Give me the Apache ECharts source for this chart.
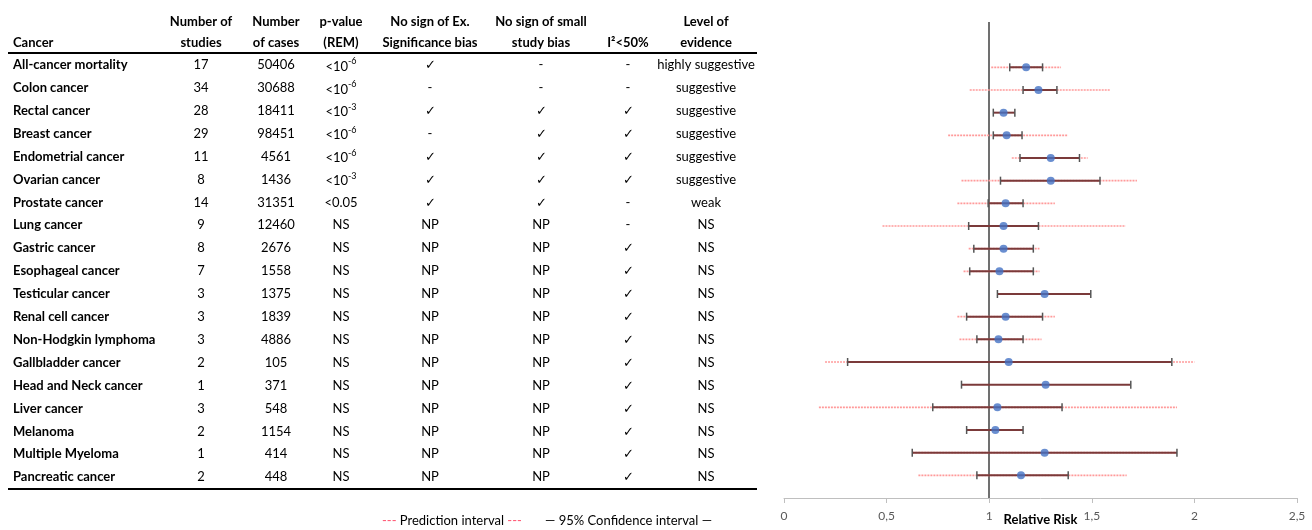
<!DOCTYPE html>
<html>
<head>
<meta charset="utf-8">
<script src="https://cdn.jsdelivr.net/npm/echarts@6/dist/echarts.min.js"></script>
<style>
  html, body { margin: 0; background: #fff; }
  #chart { width: 1312px; height: 530px; }
</style>
</head>
<body>
<div id="chart"></div>
<script>
// table columns
const cancers = ['All-cancer mortality', 'Colon cancer', 'Rectal cancer', 'Breast cancer', 'Endometrial cancer',
  'Ovarian cancer', 'Prostate cancer', 'Lung cancer', 'Gastric cancer', 'Esophageal cancer', 'Testicular cancer',
  'Renal cell cancer', 'Non-Hodgkin lymphoma', 'Gallbladder cancer', 'Head and Neck cancer', 'Liver cancer',
  'Melanoma', 'Multiple Myeloma', 'Pancreatic cancer'];
const studies = [17, 34, 28, 29, 11, 8, 14, 9, 8, 7, 3, 3, 3, 2, 1, 3, 2, 1, 2];
const cases = [50406, 30688, 18411, 98451, 4561, 1436, 31351, 12460, 2676, 1558, 1375, 1839, 4886, 105, 371, 548, 1154, 414, 448];
// '^' marks the exponent part
const pValues = ['<10^-6', '<10^-6', '<10^-3', '<10^-6', '<10^-6', '<10^-3', '<0.05', 'NS', 'NS', 'NS', 'NS', 'NS', 'NS', 'NS', 'NS', 'NS', 'NS', 'NS', 'NS'];
const exSigBias = ['✓', '-', '✓', '-', '✓', '✓', '✓', 'NP', 'NP', 'NP', 'NP', 'NP', 'NP', 'NP', 'NP', 'NP', 'NP', 'NP', 'NP'];
const smallStudyBias = ['-', '-', '✓', '✓', '✓', '✓', '✓', 'NP', 'NP', 'NP', 'NP', 'NP', 'NP', 'NP', 'NP', 'NP', 'NP', 'NP', 'NP'];
const lowI2 = ['-', '-', '✓', '✓', '✓', '✓', '-', '-', '✓', '✓', '✓', '✓', '✓', '✓', '✓', '✓', '✓', '✓', '✓'];
const evidence = ['highly suggestive', 'suggestive', 'suggestive', 'suggestive', 'suggestive', 'suggestive', 'weak',
  'NS', 'NS', 'NS', 'NS', 'NS', 'NS', 'NS', 'NS', 'NS', 'NS', 'NS', 'NS'];

// forest plot values (relative risk)
const rr     = [1.18, 1.24, 1.07, 1.085, 1.30, 1.30, 1.08, 1.07, 1.07, 1.05, 1.27, 1.08, 1.045, 1.095, 1.275, 1.04, 1.03, 1.27, 1.155];
const ciLow  = [1.10, 1.165, 1.02, 1.02, 1.15, 1.055, 0.995, 0.90, 0.925, 0.905, 1.04, 0.89, 0.94, 0.31, 0.865, 0.725, 0.89, 0.625, 0.94];
const ciHigh = [1.26, 1.33, 1.125, 1.16, 1.44, 1.54, 1.165, 1.24, 1.215, 1.215, 1.495, 1.26, 1.165, 1.89, 1.69, 1.355, 1.165, 1.915, 1.385];
const piLow  = [1.01, 0.905, null, 0.80, 1.11, 0.865, 0.845, 0.48, 0.90, 0.875, null, 0.845, 0.855, 0.20, null, 0.17, null, 0.625, 0.655];
const piHigh = [1.35, 1.59, null, 1.385, 1.48, 1.72, 1.32, 1.665, 1.245, 1.245, null, 1.32, 1.255, 2.00, null, 1.915, null, 1.915, 1.67];

const xTicks = [0, 0.5, 1, 1.5, 2, 2.5];

const FONT = 'Lato, "Open Sans", sans-serif';
const rowY = i => 65 + i * 22.9;

// column layout for the table
const columns = [
  { head: ['Number of', 'studies'], x: 201, vals: studies },
  { head: ['Number', 'of cases'], x: 276, vals: cases },
  { head: ['p-value', '(REM)'], x: 341, vals: pValues },
  { head: ['No sign of Ex.', 'Significance bias'], x: 430, vals: exSigBias },
  { head: ['No sign of small', 'study bias'], x: 541, vals: smallStudyBias },
  { head: ['', 'I²<50%'], x: 628, vals: lowI2 },
  { head: ['Level of', 'evidence'], x: 706, vals: evidence }
];

const supRich = {
  b: { font: '13px ' + FONT, fill: '#000', lineHeight: 16, verticalAlign: 'bottom' },
  s: { font: '9px ' + FONT, fill: '#000', lineHeight: 16, verticalAlign: 'top' }
};

const txt = (x, y, text, align, bold, extra) => {
  let s = String(text);
  let rich;
  if (s.indexOf('^') >= 0) {
    const parts = s.split('^');
    s = '{b|' + parts[0] + '}{s|' + parts[1] + '}';
    rich = supRich;
  }
  return {
    type: 'text',
    x: x, y: y,
    style: Object.assign({
      text: s,
      fill: '#000',
      font: (bold ? 'bold ' : '') + '13px ' + FONT,
      align: align,
      verticalAlign: 'middle',
      rich: rich
    }, extra || {})
  };
};

const tableEls = [];
tableEls.push(txt(13, 43, 'Cancer', 'left', true));
columns.forEach(c => {
  if (c.head[0]) tableEls.push(txt(c.x, 22, c.head[0], 'center', true));
  tableEls.push(txt(c.x, 43, c.head[1], 'center', true));
});
cancers.forEach((name, i) => {
  tableEls.push(txt(13, rowY(i), name, 'left', true, { width: 148, overflow: 'truncate', ellipsis: '' }));
  columns.forEach(c => tableEls.push(txt(c.x, rowY(i), c.vals[i], 'center', false)));
});
tableEls.push({ type: 'line', shape: { x1: 8, y1: 53, x2: 757, y2: 53 }, style: { stroke: '#000', lineWidth: 2 } });
tableEls.push({ type: 'line', shape: { x1: 8, y1: 489, x2: 757, y2: 489 }, style: { stroke: '#000', lineWidth: 2 } });

// legend under the table
tableEls.push({
  type: 'text',
  x: 547, y: 521,
  style: {
    text: '{r|---} Prediction interval {r|---}       — 95% Confidence interval —',
    font: '13px ' + FONT,
    fill: '#000',
    align: 'center',
    verticalAlign: 'middle',
    rich: { r: { fill: '#ff5470', font: '13px ' + FONT } }
  }
});

const n = cancers.length;
const intervalData = cancers.map((_, i) => [ciLow[i], ciHigh[i], piLow[i] == null ? '-' : piLow[i], piHigh[i] == null ? '-' : piHigh[i], n - i]);
const pointData = cancers.map((_, i) => [rr[i], n - i]);

function renderInterval(params, api) {
  const y = api.value(4);
  const children = [];
  const pl = api.value(2), ph = api.value(3);
  if (!isNaN(pl) && !isNaN(ph)) {
    const a = api.coord([pl, y]), b = api.coord([ph, y]);
    children.push({
      type: 'line',
      shape: { x1: a[0], y1: a[1], x2: b[0], y2: b[1] },
      style: { stroke: '#ff9a9a', lineWidth: 1.6, lineDash: [2, 1] }
    });
  }
  const lo = api.coord([api.value(0), y]), hi = api.coord([api.value(1), y]);
  children.push({
    type: 'line',
    shape: { x1: lo[0], y1: lo[1], x2: hi[0], y2: hi[1] },
    style: { stroke: '#7b3a3a', lineWidth: 2 }
  });
  [lo, hi].forEach(p => children.push({
    type: 'line',
    shape: { x1: p[0], y1: p[1] - 4, x2: p[0], y2: p[1] + 4 },
    style: { stroke: '#555', lineWidth: 1.5 }
  }));
  return { type: 'group', children: children };
}

const chart = echarts.init(document.getElementById('chart'));
chart.setOption({
  backgroundColor: '#fff',
  animation: false,
  textStyle: { fontFamily: FONT },
  grid: { left: 784, right: 15, top: 22, bottom: 32, outerBoundsMode: 'none', containLabel: false },
  xAxis: {
    type: 'value',
    min: xTicks[0],
    max: xTicks[xTicks.length - 1],
    interval: 0.5,
    axisLine: { lineStyle: { color: '#bfbfbf', width: 1 } },
    axisTick: { show: true, length: 5, lineStyle: { color: '#bfbfbf' } },
    axisLabel: { color: '#595959', fontSize: 12, margin: 12, formatter: v => String(v).replace('.', ',') },
    splitLine: { show: false },
    name: 'Relative Risk',
    nameLocation: 'middle',
    nameGap: 15,
    nameMoveOverlap: false,
    nameTextStyle: { color: '#000', fontWeight: 'bold', fontSize: 13 }
  },
  yAxis: { type: 'value', min: 0, max: n + 2, show: false },
  graphic: tableEls,
  series: [
    {
      type: 'custom',
      renderItem: renderInterval,
      encode: { x: [0, 1, 2, 3], y: 4 },
      data: intervalData,
      z: 3,
      silent: true
    },
    {
      type: 'scatter',
      data: pointData,
      symbolSize: 8,
      itemStyle: { color: '#4472c4' },
      z: 4,
      markLine: {
        silent: true,
        symbol: 'none',
        label: { show: false },
        lineStyle: { color: '#404040', width: 1.5, type: 'solid' },
        data: [{ xAxis: 1 }],
        z: 2
      }
    }
  ]
});
</script>
</body>
</html>
